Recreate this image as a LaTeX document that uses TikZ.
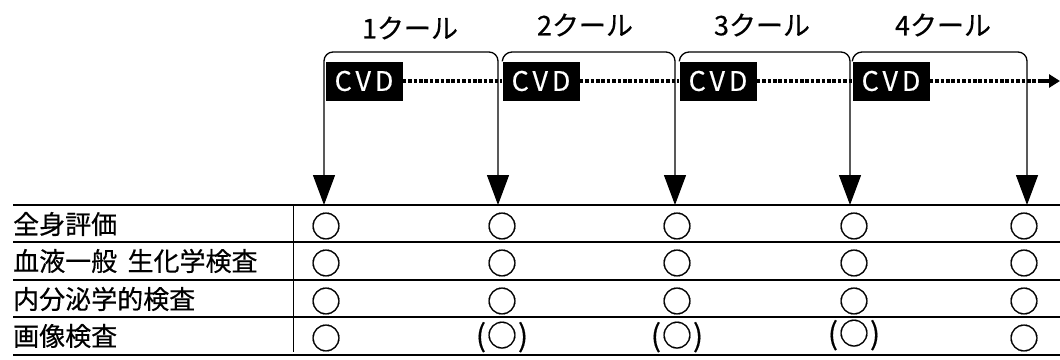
\documentclass[tikz,border=0pt]{standalone}
\usepackage{fontspec}
\setmainfont{Noto Sans CJK JP}[FakeBold=0.4]
\usetikzlibrary{arrows.meta}
\newcommand{\kakkofont}{\fontsize{30}{30}\selectfont}

\begin{document}
\begin{tikzpicture}[x=1pt,y=-1pt,
	cvd/.style={fill=black,text=white,inner sep=0pt,minimum width=77pt,minimum height=39pt,font=\fontsize{27}{27}\selectfont\addfontfeature{LetterSpace=14}},
	kour/.style={font=\fontsize{27}{27}\selectfont},
	koumoku/.style={anchor=west,inner sep=0pt,font=\fontsize{26}{26}\selectfont},
	maru/.style={inner sep=0pt,font=\fontsize{30}{30}\selectfont},
	tri/.style={-{Triangle[length=30pt,width=22pt]}}]
		\useasboundingbox (0,0) rectangle (1060,359);
		% kuru no midashi
		\node[kour] (k1) at (410,28) {1クール};
		\node[kour] (k2) at (585,25) {2クール};
		\node[kour] (k3) at (762,25) {3クール};
		\node[kour] (k4) at (943,25) {4クール};
		% CVD
		\node[cvd] (c1) at (364,81) {CVD};
		\node[cvd] (c2) at (541,81) {CVD};
		\node[cvd] (c3) at (718,81) {CVD};
		\node[cvd] (c4) at (891,81) {CVD};
		\coordinate (y1) at (324,205);
		\coordinate (y2) at (498,205);
		\coordinate (y3) at (675,205);
		\coordinate (y4) at (850,205);
		\coordinate (y5) at (1027,205);
		\coordinate (ya) at (1040,81);
		\coordinate (yb) at (1060,81);
		% kakko to yajirushi
		\draw[line width=1.3pt,rounded corners=9pt,{Triangle[length=30pt,width=22pt]}-{Triangle[length=30pt,width=22pt]}] (y1) -- (324,52) -- (498,52) -- (y2);
		\draw[line width=1.3pt,rounded corners=9pt,tri] (c2.north west) -- (503,52) -- (675,52) -- (y3);
		\draw[line width=1.3pt,rounded corners=9pt,tri] (c3.north west) -- (680,52) -- (850,52) -- (y4);
		\draw[line width=1.3pt,rounded corners=9pt,tri] (c4.north west) -- (853,52) -- (1027,52) -- (y5);
		\draw[line width=3.2pt,dash pattern=on 3.6pt off 1.8pt] (c1.east) -- (c2.west) (c2.east) -- (c3.west) (c3.east) -- (c4.west) (c4.east) -- (ya);
		\draw[line width=3.2pt,-{Triangle[length=11pt,width=13pt]}] (ya) -- (yb);
		% hyou
		\foreach \y in {205,242,280,317,355}
			\draw[line width=1.6pt] (13,\y) -- (1060,\y);
		\draw[line width=0.9pt] (293,205) -- (293,352);
		\node[koumoku] (r1) at (13,224) {全身評価};
		\node[koumoku] (r2) at (13,261) {血液一般\hspace{0.4em}生化学検査};
		\node[koumoku] (r3) at (13,299) {内分泌学的検査};
		\node[koumoku] (r4) at (13,336) {画像検査};
		\foreach \x/\n in {326/1,502/2,677/3,854/4,1024/5} {
			\node[maru] (m1\n) at (\x,226) {○};
			\node[maru] (m2\n) at (\x,263) {○};
			\node[maru] (m3\n) at (\x,301) {○};
		}
		\node[maru] (m41) at (326,338) {○};
		\node[maru] (m42) at (502,337) {{\kakkofont(}\kern1pt○\kern1pt{\kakkofont)}};
		\node[maru] (m43) at (677,337) {{\kakkofont(}\kern1pt○\kern1pt{\kakkofont)}};
		\node[maru] (m44) at (854,335) {{\kakkofont(}\kern1pt○\kern1pt{\kakkofont)}};
		\node[maru] (m45) at (1024,338) {○};
\end{tikzpicture}
\end{document}
